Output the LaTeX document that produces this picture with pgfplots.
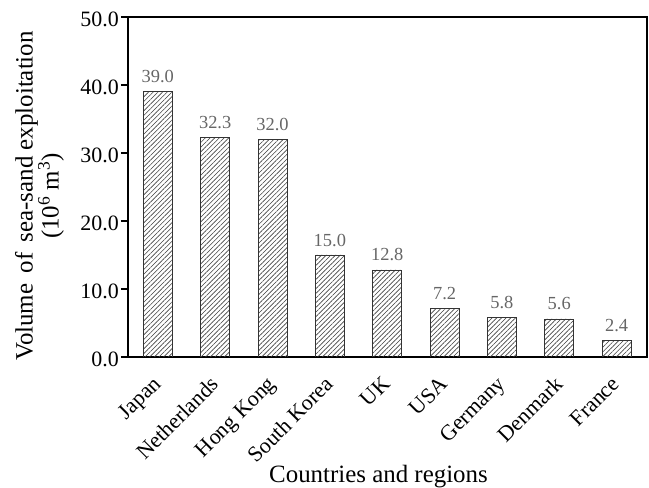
\documentclass[border=0pt]{standalone}
\usepackage{fontspec}
\setmainfont{Liberation Serif}
\usepackage{pgfplots}
\pgfplotsset{compat=1.18}
\usetikzlibrary{patterns.meta}
\begin{document}
\begin{tikzpicture}
\begin{axis}[
  scale only axis, width=519bp, height=340bp,
  xmin=-0.52, xmax=8.53, ymin=0, ymax=50,
  ybar, bar width=29bp,
  xtick=data,
  xticklabels={Japan,Netherlands,Hong Kong,South Korea,UK,USA,Germany,Denmark,France},
  x tick label style={xshift=-6bp, yshift=-9.5bp, rotate=45, anchor=north east, font=\fontsize{22}{24}\selectfont, inner sep=1pt},
  major x tick style={draw=none},
  ytick={0,10,...,50},
  ytick pos=left, tick align=outside, major tick length=7bp,
  major tick style={line width=1.2bp, black},
  y tick label style={/pgf/number format/fixed, /pgf/number format/fixed zerofill, /pgf/number format/precision=1, /pgf/number format/assume math mode=true, font=\fontsize{22}{24}\selectfont, inner sep=2pt, yshift=-2bp},
  axis line style={line width=1.6bp},
  ylabel={Volume\, of\, sea-sand exploitation\\(10\textsuperscript{6} m\textsuperscript{3})},
  ylabel style={align=center, font=\fontsize{25}{26}\selectfont, yshift=11bp, xshift=-9bp},
  xlabel={Countries and regions},
  xlabel style={font=\fontsize{25}{26}\selectfont, at={(axis description cs:0.5,0)}, anchor=north, yshift=-105bp, xshift=-9bp},
  nodes near coords={\pgfmathprintnumber[fixed,fixed zerofill,precision=1,assume math mode=true]{\pgfplotspointmeta}},
  every node near coord/.append style={font=\fontsize{18.5}{20}\selectfont, text=black!60, yshift=5bp},
]
\addplot[draw=black!80, line width=0.8bp, pattern={Lines[angle=45,distance=3.3bp,line width=0.6bp]}, pattern color=black!75]
  coordinates {(0,39.0) (1,32.3) (2,32.0) (3,15.0) (4,12.8) (5,7.2) (6,5.8) (7,5.6) (8,2.4)};
\coordinate (bl) at (rel axis cs:0,0);
\coordinate (tr) at (rel axis cs:1,1);
\end{axis}
\pgfresetboundingbox
\path ([shift={(-128bp,-131bp)}]bl) rectangle ([shift={(2bp,17bp)}]tr);
\end{tikzpicture}
\end{document}
